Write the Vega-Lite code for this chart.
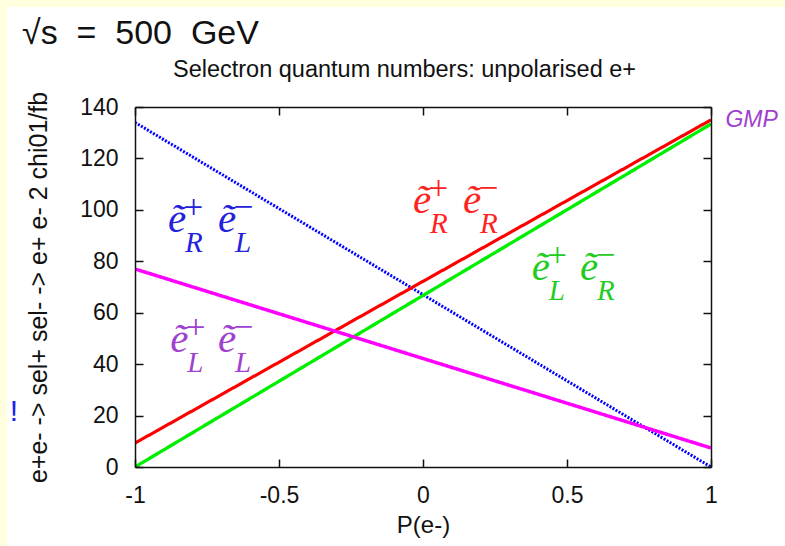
{
  "$schema": "https://vega.github.io/schema/vega-lite/v6.json",
  "width": 576,
  "height": 360,
  "autosize": {"type": "none"},
  "padding": {"left": 135, "top": 107, "right": 74, "bottom": 79},
  "background": "#FFFFDD",
  "config": {
    "view": {"stroke": null},
    "font": "Liberation Sans",
    "axis": {"zindex": 1, "domainColor": "#111", "domainWidth": 1.5, "tickColor": "#111", "tickWidth": 1.5, "grid": false, "labelColor": "#111", "titleColor": "#111", "labelFont": "Liberation Sans", "titleFont": "Liberation Sans", "titleFontWeight": "normal"}
  },
  "title": {
    "text": "√s\u00a0\u00a0=\u00a0\u00a0500\u00a0\u00a0GeV",
    "anchor": "start",
    "frame": "group",
    "dx": -113,
    "dy": 81,
    "offset": 10,
    "baseline": "alphabetic",
    "fontSize": 34,
    "font": "Liberation Sans",
    "fontWeight": "normal",
    "color": "#111",
    "zindex": 1
  },
  "datasets": {
    "panel": [{"x1": -1.4444, "x2": 1.4, "y1": -45, "y2": 178.9}],
    "lines": [
      {"series": "RL", "P": -1, "sigma": 134},
      {"series": "RL", "P": 0, "sigma": 67},
      {"series": "RL", "P": 1, "sigma": 0},
      {"series": "RR", "P": -1, "sigma": 9.3},
      {"series": "RR", "P": 0, "sigma": 72.2},
      {"series": "RR", "P": 1, "sigma": 135},
      {"series": "LR", "P": -1, "sigma": 0},
      {"series": "LR", "P": 0, "sigma": 66.7},
      {"series": "LR", "P": 1, "sigma": 133.4},
      {"series": "LL", "P": -1, "sigma": 77},
      {"series": "LL", "P": 0, "sigma": 42.2},
      {"series": "LL", "P": 1, "sigma": 7.4}
    ],
    "labels": [
      {"pair": "RL", "sign": "+", "hand": "R", "x": -0.885, "y": 91.4},
      {"pair": "RL", "sign": "−", "hand": "L", "x": -0.712, "y": 91.4},
      {"pair": "RR", "sign": "+", "hand": "R", "x": -0.035, "y": 98.8},
      {"pair": "RR", "sign": "−", "hand": "R", "x": 0.139, "y": 98.8},
      {"pair": "LR", "sign": "+", "hand": "L", "x": 0.378, "y": 72.7},
      {"pair": "LR", "sign": "−", "hand": "R", "x": 0.545, "y": 72.7},
      {"pair": "LL", "sign": "+", "hand": "L", "x": -0.878, "y": 44.7},
      {"pair": "LL", "sign": "−", "hand": "L", "x": -0.712, "y": 44.7}
    ]
  },
  "resolve": {"axis": {"x": "independent", "y": "independent"}, "scale": {"color": "independent"}},
  "layer": [
    {
      "data": {"name": "panel"},
      "mark": {"type": "rect", "fill": "#FFFFFF", "clip": false},
      "encoding": {
        "x": {"field": "x1", "type": "quantitative", "scale": {"domain": [-1, 1], "nice": false, "zero": false}, "axis": null},
        "x2": {"field": "x2"},
        "y": {"field": "y1", "type": "quantitative", "scale": {"domain": [0, 140], "nice": false}, "axis": null},
        "y2": {"field": "y2"}
      }
    },
    {
      "data": {"name": "lines"},
      "mark": {"type": "line", "clip": true},
      "encoding": {
        "x": {"field": "P", "type": "quantitative", "scale": {"domain": [-1, 1], "nice": false, "zero": false},
          "axis": {"orient": "bottom", "zindex": 1, "title": "P(e-)", "values": [-1, -0.5, 0, 0.5, 1], "labelExpr": "toString(datum.value)", "tickSize": -8, "labelPadding": 25, "labelFontSize": 23, "titleFontSize": 24, "titlePadding": 6, "labelFlush": false}},
        "y": {"field": "sigma", "type": "quantitative", "scale": {"domain": [0, 140], "nice": false},
          "axis": {"orient": "left", "zindex": 1, "title": "e+e- -> sel+ sel- -> e+ e- 2 chi01/fb", "values": [0, 20, 40, 60, 80, 100, 120, 140], "tickSize": -8, "labelPadding": 25, "labelFontSize": 23, "titleFontSize": 25, "titlePadding": 28}},
        "color": {"field": "series", "type": "nominal", "scale": {"domain": ["RL", "RR", "LR", "LL"], "range": ["#0000FF", "#FF0000", "#00EE00", "#FF00FF"]}, "legend": null},
        "strokeDash": {"field": "series", "type": "nominal", "scale": {"domain": ["RL", "RR", "LR", "LL"], "range": [[2, 1.5], [1, 0], [1, 0], [1, 0]]}, "legend": null},
        "strokeWidth": {"field": "series", "type": "nominal", "scale": {"domain": ["RL", "RR", "LR", "LL"], "range": [3, 3.5, 3, 2.5]}, "legend": null}
      }
    },
    {
      "data": {"name": "labels"},
      "mark": {"type": "text", "text": "ẽ", "font": "Liberation Serif", "fontStyle": "italic", "fontSize": 41, "align": "left", "baseline": "alphabetic", "clip": false},
      "encoding": {
        "x": {"field": "x", "type": "quantitative", "scale": {"domain": [-1, 1], "nice": false, "zero": false},
          "axis": {"orient": "top", "zindex": 1, "title": "Selectron quantum numbers: unpolarised e+", "labels": false, "values": [-1, -0.5, 0, 0.5, 1], "tickSize": -8, "titleFontSize": 23.5, "titlePadding": 30, "titleBaseline": "alphabetic", "titleX": 269}},
        "y": {"field": "y", "type": "quantitative", "scale": {"domain": [0, 140], "nice": false},
          "axis": {"orient": "right", "zindex": 1, "title": null, "labels": false, "values": [0, 20, 40, 60, 80, 100, 120, 140], "tickSize": -8}},
        "color": {"field": "pair", "type": "nominal", "scale": {"domain": ["RL", "RR", "LR", "LL"], "range": ["#2222DD", "#FF2222", "#22CC22", "#A040D0"]}, "legend": null}
      }
    },
    {
      "data": {"name": "labels"},
      "mark": {"type": "text", "font": "Liberation Serif", "fontSize": 34, "align": "left", "baseline": "middle", "dx": 16, "dy": -24, "clip": false},
      "encoding": {
        "x": {"field": "x", "type": "quantitative", "scale": {"domain": [-1, 1], "nice": false, "zero": false}, "axis": null},
        "y": {"field": "y", "type": "quantitative", "scale": {"domain": [0, 140], "nice": false}, "axis": null},
        "text": {"field": "sign"},
        "color": {"field": "pair", "type": "nominal", "scale": {"domain": ["RL", "RR", "LR", "LL"], "range": ["#2222DD", "#FF2222", "#22CC22", "#A040D0"]}, "legend": null}
      }
    },
    {
      "data": {"name": "labels"},
      "mark": {"type": "text", "font": "Liberation Serif", "fontStyle": "italic", "fontSize": 29, "align": "left", "baseline": "alphabetic", "dx": 17, "dy": 20, "clip": false},
      "encoding": {
        "x": {"field": "x", "type": "quantitative", "scale": {"domain": [-1, 1], "nice": false, "zero": false}, "axis": null},
        "y": {"field": "y", "type": "quantitative", "scale": {"domain": [0, 140], "nice": false}, "axis": null},
        "text": {"field": "hand"},
        "color": {"field": "pair", "type": "nominal", "scale": {"domain": ["RL", "RR", "LR", "LL"], "range": ["#2222DD", "#FF2222", "#22CC22", "#A040D0"]}, "legend": null}
      }
    },
    {
      "data": {"values": [{"note": "GMP", "x": 1.05, "y": 135}]},
      "mark": {"type": "text", "font": "Liberation Sans", "fontStyle": "italic", "fontSize": 23, "align": "left", "baseline": "middle", "color": "#A040D0", "clip": false},
      "encoding": {
        "x": {"field": "x", "type": "quantitative", "scale": {"domain": [-1, 1], "nice": false, "zero": false}, "axis": null},
        "y": {"field": "y", "type": "quantitative", "scale": {"domain": [0, 140], "nice": false}, "axis": null},
        "text": {"field": "note"}
      }
    },
    {
      "data": {"values": [{"note": "!", "x": -1.42, "y": 21.4}]},
      "mark": {"type": "text", "font": "Liberation Sans", "fontSize": 30, "align": "center", "baseline": "middle", "color": "#2222EE", "clip": false},
      "encoding": {
        "x": {"field": "x", "type": "quantitative", "scale": {"domain": [-1, 1], "nice": false, "zero": false}, "axis": null},
        "y": {"field": "y", "type": "quantitative", "scale": {"domain": [0, 140], "nice": false}, "axis": null},
        "text": {"field": "note"}
      }
    }
  ]
}
